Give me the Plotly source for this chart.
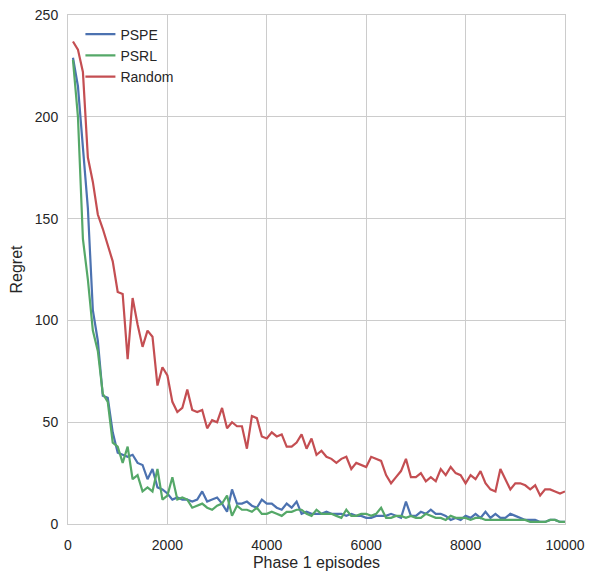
import plotly.graph_objects as go

episodes = list(range(100, 10001, 100))

pspe = [229, 215, 185, 155, 105, 90, 63, 62, 45, 35,
        34, 33, 34, 30, 29, 22, 27, 18, 17, 15,
        12, 13, 12, 12, 11, 12, 16, 11, 12, 13,
        10, 6, 17, 10, 10, 11, 9, 8, 12, 10,
        10, 8, 7, 10, 8, 11, 5, 6, 5, 5,
        5, 6, 5, 5, 5, 4, 5, 4, 4, 3,
        3, 4, 4, 4, 5, 4, 3, 11, 4, 4,
        6, 5, 7, 5, 5, 4, 2, 3, 2, 4,
        3, 5, 3, 6, 3, 5, 3, 3, 5, 4,
        3, 2, 2, 2, 1, 1, 2, 2, 1, 1]

psrl = [228, 200, 140, 120, 95, 85, 64, 60, 40, 38,
        30, 38, 22, 24, 16, 18, 16, 27, 12, 14,
        23, 12, 13, 12, 8, 9, 10, 8, 7, 9,
        10, 14, 4, 9, 7, 7, 6, 8, 5, 5,
        6, 5, 4, 6, 6, 7, 7, 5, 4, 7,
        5, 5, 5, 4, 3, 7, 4, 4, 5, 5,
        4, 5, 8, 3, 3, 4, 4, 3, 4, 3,
        3, 5, 4, 3, 3, 2, 4, 3, 3, 3,
        2, 3, 3, 2, 2, 2, 2, 2, 2, 2,
        2, 2, 1, 1, 1, 1, 2, 2, 1, 1]

random_ = [237, 233, 222, 180, 168, 152, 145, 137, 129, 114,
           113, 81, 111, 98, 87, 95, 92, 68, 77, 73,
           60, 55, 57, 66, 56, 55, 56, 47, 51, 50,
           57, 47, 50, 48, 48, 37, 53, 52, 43, 42,
           45, 43, 44, 38, 38, 40, 44, 37, 42, 34,
           36, 33, 32, 30, 32, 33, 27, 30, 29, 28,
           33, 32, 31, 24, 20, 23, 26, 32, 23, 23,
           25, 21, 23, 21, 27, 24, 28, 25, 24, 20,
           24, 22, 26, 20, 17, 16, 27, 22, 17, 20,
           20, 19, 17, 19, 14, 17, 17, 16, 15, 16]

names = ["PSPE", "PSRL", "Random"]
series = [pspe, psrl, random_]
colors = ["#4C72B0", "#55A868", "#C44E52"]

x_ticks = [0, 2000, 4000, 6000, 8000, 10000]
x_ticklabels = ["0", "2000", "4000", "6000", "8000", "10000"]
y_ticks = [0, 50, 100, 150, 200, 250]

fig = go.Figure()
for n, s, c in zip(names, series, colors):
    fig.add_trace(go.Scatter(x=episodes, y=s, mode="lines", name=n, legendgroup=n,
                             line=dict(color=c, width=2.2)))

font = "Liberation Sans, Arial, sans-serif"
fig.update_layout(
    width=592, height=571,
    margin=dict(l=68, r=27, t=15, b=47),
    plot_bgcolor="white", paper_bgcolor="white",
    font=dict(family=font, size=14, color="#262626"),
    showlegend=True,
    legend=dict(x=0.025, y=0.993, xanchor="left", yanchor="top",
                bgcolor="rgba(0,0,0,0)", font=dict(size=14, color="#262626"),
                tracegroupgap=0, traceorder="grouped"),
    xaxis=dict(range=[0, 10000], tickvals=x_ticks, ticktext=x_ticklabels,
               showgrid=True, gridcolor="#cccccc", gridwidth=1,
               showline=True, linecolor="#cccccc", mirror=True, linewidth=1,
               zeroline=False, ticks="", tickfont=dict(size=14),
               ticklabelstandoff=8, automargin=False,
               title=dict(text="Phase 1 episodes", font=dict(size=16), standoff=6)),
    yaxis=dict(range=[0, 250], tickvals=y_ticks,
               showgrid=True, gridcolor="#cccccc", gridwidth=1,
               showline=True, linecolor="#cccccc", mirror=True, linewidth=1,
               zeroline=False, ticks="", tickfont=dict(size=14),
               ticklabelstandoff=6, automargin=False,
               title=dict(text="Regret", font=dict(size=16), standoff=8)),
)

fig.write_html("out.html")
